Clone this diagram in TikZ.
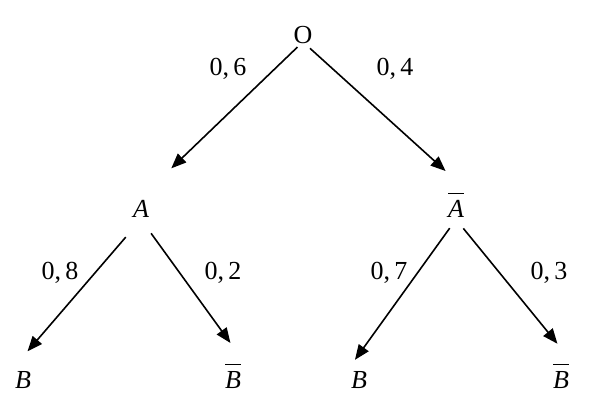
\documentclass[tikz,border=0pt]{standalone}
\usepackage{fontspec}
\setmainfont{Liberation Serif}
\usetikzlibrary{arrows.meta}
\newcommand\Compl[1]{$\overline{\mbox{\itshape #1}\rule{0pt}{10.4pt}}$}
\tikzset{
  event/.style={
    anchor = base,
    inner sep = 1pt,
    font = \fontsize{13}{15}\selectfont
  },
  prob/.style={
    anchor = base,
    inner sep = 1pt,
    font = \fontsize{13}{15}\selectfont
  },
  branch/.style={
    line width = 0.8pt,
    -{Triangle[length=7.5pt,width=6pt]}
  }
}

\begin{document}
\begin{tikzpicture}[x=0.5pt,y=-0.5pt]
    \useasboundingbox (0,0) rectangle (594,407);
    % events
    \node[event] (root) at (303,43) {O};
    \node[event] (nA) at (141,217) {\textit{A}};
    \node[event] (nAbar) at (456,217) {\Compl{A}};
    \node[event] (nB) at (23,388) {\textit{B}};
    \node[event] (nBbar) at (233,388) {\Compl{B}};
    \node[event] (nBb) at (359,388) {\textit{B}};
    \node[event] (nBbarb) at (561,388) {\Compl{B}};

    % probabilities
    \node[prob] (p06) at (228,75) {0,\,6};
    \node[prob] (p04) at (395,75) {0,\,4};
    \node[prob] (p08) at (60,279) {0,\,8};
    \node[prob] (p02) at (223,279) {0,\,2};
    \node[prob] (p07) at (389,279) {0,\,7};
    \node[prob] (p03) at (549,279) {0,\,3};

    % branches
    \draw[branch, shorten <=1pt, shorten >=21pt] (root.-110) -- (nA.north);
    \draw[branch, shorten <=2pt, shorten >=14pt] (root.-70) -- (nAbar.north east);
    \draw[branch, shorten <=11.7pt, shorten >=11.4pt] (nA.south) -- (nB.north west);
    \draw[branch, shorten <=8.6pt, shorten >=11pt] (nA.south) -- (nBbar.north east);
    \draw[branch, shorten <=5.4pt, shorten >=5.4pt] (nAbar.south) -- (nBb.north west);
    \draw[branch, shorten <=5.8pt, shorten >=11pt] (nAbar.south) -- (nBbarb.north east);
\end{tikzpicture}
\end{document}
